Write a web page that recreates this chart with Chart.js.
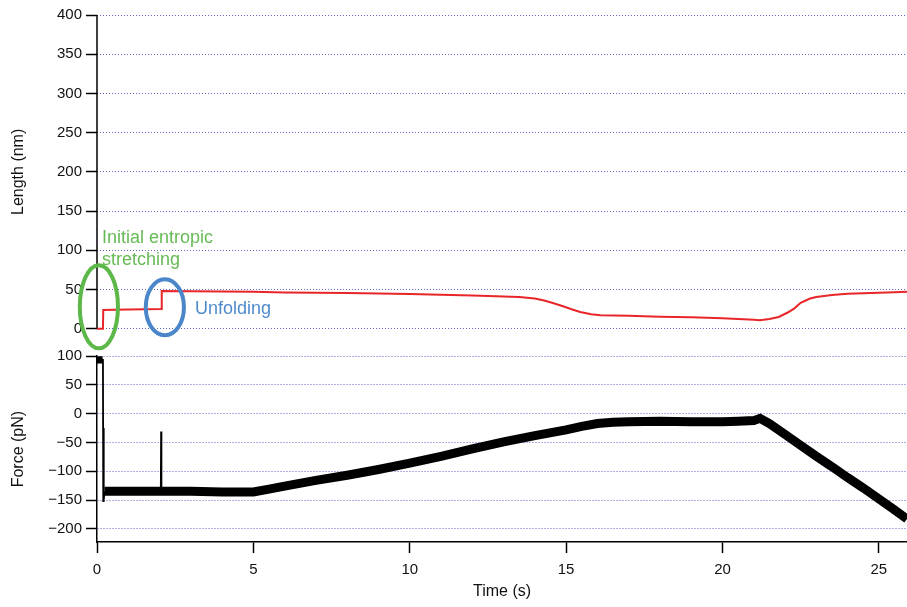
<!DOCTYPE html>
<html lang="en">
<head>
<meta charset="UTF-8">
<title>Length and force vs time</title>
<script src="https://cdn.jsdelivr.net/npm/chart.js"></script>
<style>
    html, body { margin: 0; padding: 0; background: #fff; }
    #wrap { width: 907px; height: 607px; }
</style>
</head>
<body>
<div id="wrap"><canvas id="myChart" width="907" height="607"></canvas></div>
<script>
    // Length trace (nm) vs time (s)
    var lengthTime = [0, 0.19, 0.2, 1, 2.06, 2.07, 3, 4, 5, 6, 7, 8, 9, 10, 11, 12, 13, 13.5, 14, 14.3, 14.6, 14.9, 15.2, 15.45, 15.8, 16.1, 17, 18, 19, 20, 20.5, 21, 21.2, 21.5, 21.8, 22.1, 22.3, 22.5, 22.8, 23, 23.5, 24, 24.5, 25, 25.5, 25.9];
    var lengthNm   = [0, 0, 24, 24.5, 25, 48, 47.8, 47.5, 47, 46.3, 45.8, 45.4, 44.8, 44.2, 43.4, 42.5, 41.2, 40.5, 38.5, 36, 32.5, 28.7, 24.5, 21.4, 18.5, 17.2, 16.5, 15.2, 14.5, 13.5, 12.5, 11.5, 10.8, 12.5, 15, 21, 26, 33, 38.5, 40.5, 43, 44.5, 45.3, 46, 46.5, 47];

    // Force trace (pN) vs time (s), the thick noisy band
    var forceTime = [0, 0.18, 0.2, 0.24, 1, 2, 3, 4, 5, 5.5, 6, 7, 8, 9, 10, 11, 12, 13, 14, 15, 15.5, 16, 16.5, 17, 18, 19, 20, 20.5, 21, 21.2, 21.5, 22, 22.5, 23, 23.5, 24, 24.5, 25, 25.5, 25.9];
    var forcePn   = [95, 95, null, -135, -135, -135, -135, -136, -136, -131, -126, -116, -107, -97, -86, -74, -61, -49, -38, -28, -22, -17, -15, -14, -13, -14, -14, -13, -12, -8, -17, -36, -55, -74, -92, -111, -129, -148, -167, -183];

    // Thin transients: the snap down at ~0.2 s and the spike at ~2 s
    var snapTime = [0.19, 0.2, 0.21, 0.22, 0.24, 1, 2.04, 2.05, 2.06];
    var snapPn   = [95, -152, -25, -150, -135, null, -135, -31, -135];

    // Tick labels
    var timeTicks = [0, 5, 10, 15, 20, 25];
    var lengthTicks = [0, 50, 100, 150, 200, 250, 300, 350, 400];
    var forceTicks = [-200, -150, -100, -50, 0, 50, 100];

    var fontFamily = "'Liberation Sans', Arial, Helvetica, sans-serif";
    var gridColor = 'rgba(60, 60, 190, 0.8)';

    // Annotations in data units (time s, length nm)
    var rings = [
        { t: 0.06, nm: 28, dt: 0.61, dnm: 53, color: '#5cb848' },
        { t: 2.17, nm: 27.4, dt: 0.61, dnm: 35.7, color: '#4a86c8' }
    ];
    var notes = [
        { text: 'Initial entropic', t: 0.16, nm: 109.3, color: '#66bb55' },
        { text: 'stretching', t: 0.16, nm: 81.8, color: '#66bb55' },
        { text: 'Unfolding', t: 3.13, nm: 18.5, color: '#4f8bcb' }
    ];

    function toPoints(xs, ys) {
        return xs.map(function (x, i) { return { x: x, y: ys[i] }; });
    }

    // negative labels use a real minus sign, like the original
    function tickLabel(v) {
        return v < 0 ? '\u2212' + Math.abs(v) : String(v);
    }

    var overlay = {
        id: 'overlay',
        beforeDatasetsDraw: function (chart) {
            var ctx = chart.ctx;
            var yLen = chart.scales.yLen;
            var yForce = chart.scales.yForce;
            ctx.save();
            // left axis line of the top panel, only over 0..400
            ctx.strokeStyle = '#000';
            ctx.lineWidth = 1.5;
            ctx.beginPath();
            ctx.moveTo(yLen.right, yLen.getPixelForValue(400));
            ctx.lineTo(yLen.right, yLen.getPixelForValue(0));
            ctx.stroke();
            // axis titles
            ctx.fillStyle = '#111';
            ctx.font = '16px ' + fontFamily;
            ctx.textAlign = 'center';
            ctx.textBaseline = 'middle';
            var titles = [
                ['Length (nm)', (yLen.getPixelForValue(400) + yLen.getPixelForValue(0)) / 2],
                ['Force (pN)', (yForce.top + yForce.bottom) / 2]
            ];
            titles.forEach(function (tt) {
                ctx.save();
                ctx.translate(19, tt[1]);
                ctx.rotate(-Math.PI / 2);
                ctx.fillText(tt[0], 0, 0);
                ctx.restore();
            });
            ctx.restore();
        },
        afterDatasetsDraw: function (chart) {
            var ctx = chart.ctx;
            var x = chart.scales.x;
            var yLen = chart.scales.yLen;
            ctx.save();
            rings.forEach(function (r) {
                var cx = x.getPixelForValue(r.t);
                var cy = yLen.getPixelForValue(r.nm);
                var rx = Math.abs(x.getPixelForValue(r.t + r.dt) - cx);
                var ry = Math.abs(yLen.getPixelForValue(r.nm + r.dnm) - cy);
                ctx.strokeStyle = r.color;
                ctx.lineWidth = 4;
                ctx.beginPath();
                ctx.ellipse(cx, cy, rx, ry, 0, 0, Math.PI * 2);
                ctx.stroke();
            });
            ctx.font = '18px ' + fontFamily;
            ctx.textAlign = 'left';
            ctx.textBaseline = 'alphabetic';
            notes.forEach(function (n) {
                ctx.fillStyle = n.color;
                ctx.fillText(n.text, x.getPixelForValue(n.t), yLen.getPixelForValue(n.nm));
            });
            ctx.restore();
        }
    };

    var yTickOpts = { padding: 4, color: '#111', autoSkip: false, callback: tickLabel, font: { size: 15, family: fontFamily } };
    var yGridOpts = { color: gridColor, lineWidth: 1, tickColor: '#000', tickLength: 11, tickWidth: 1.5 };

    var ctx = document.getElementById('myChart').getContext('2d');
    var myChart = new Chart(ctx, {
        type: 'line',
        data: {
            datasets: [
                {
                    label: 'Force',
                    data: toPoints(forceTime, forcePn),
                    borderColor: '#000',
                    borderWidth: 9,
                    yAxisID: 'yForce'
                },
                {
                    label: 'Force transients',
                    data: toPoints(snapTime, snapPn),
                    borderColor: '#000',
                    borderWidth: 1.8,
                    yAxisID: 'yForce'
                },
                {
                    label: 'Length',
                    data: toPoints(lengthTime, lengthNm),
                    borderColor: '#e8262a',
                    borderWidth: 2,
                    yAxisID: 'yLen'
                }
            ]
        },
        options: {
            responsive: false,
            animation: false,
            events: [],
            layout: { padding: { top: 15, right: 0, bottom: 0, left: 0 } },
            elements: { point: { radius: 0 }, line: { tension: 0 } },
            plugins: { legend: { display: false }, tooltip: { enabled: false } },
            scales: {
                x: {
                    type: 'linear',
                    min: 0,
                    max: 25.9,
                    afterBuildTicks: function (s) { s.ticks = timeTicks.map(function (v) { return { value: v }; }); },
                    afterFit: function (s) { s.height = 65; },
                    grid: { drawOnChartArea: false, drawTicks: true, tickLength: 11, tickColor: '#000', tickWidth: 1.5 },
                    border: { color: '#000', width: 1.5 },
                    ticks: { padding: 8, color: '#111', maxRotation: 0, autoSkip: false, font: { size: 15, family: fontFamily } },
                    title: {
                        display: true,
                        text: 'Time (s)',
                        color: '#111',
                        font: { size: 16, family: fontFamily },
                        padding: { top: 0, bottom: 6 }
                    }
                },
                yForce: {
                    type: 'linear',
                    position: 'left',
                    stack: 'panels',
                    stackWeight: 186,
                    min: -223,
                    max: 100,
                    afterBuildTicks: function (s) { s.ticks = forceTicks.map(function (v) { return { value: v }; }); },
                    afterFit: function (s) { s.width = 97; },
                    grid: yGridOpts,
                    border: { color: '#000', width: 1.5, dash: [1, 2] },
                    ticks: yTickOpts
                },
                yLen: {
                    type: 'linear',
                    position: 'left',
                    stack: 'panels',
                    stackWeight: 341.5,
                    min: -35,
                    max: 400,
                    afterBuildTicks: function (s) { s.ticks = lengthTicks.map(function (v) { return { value: v }; }); },
                    afterFit: function (s) { s.width = 97; },
                    grid: yGridOpts,
                    border: { display: false, dash: [1, 2] },
                    ticks: yTickOpts
                }
            }
        },
        plugins: [overlay]
    });
</script>
</body>
</html>
